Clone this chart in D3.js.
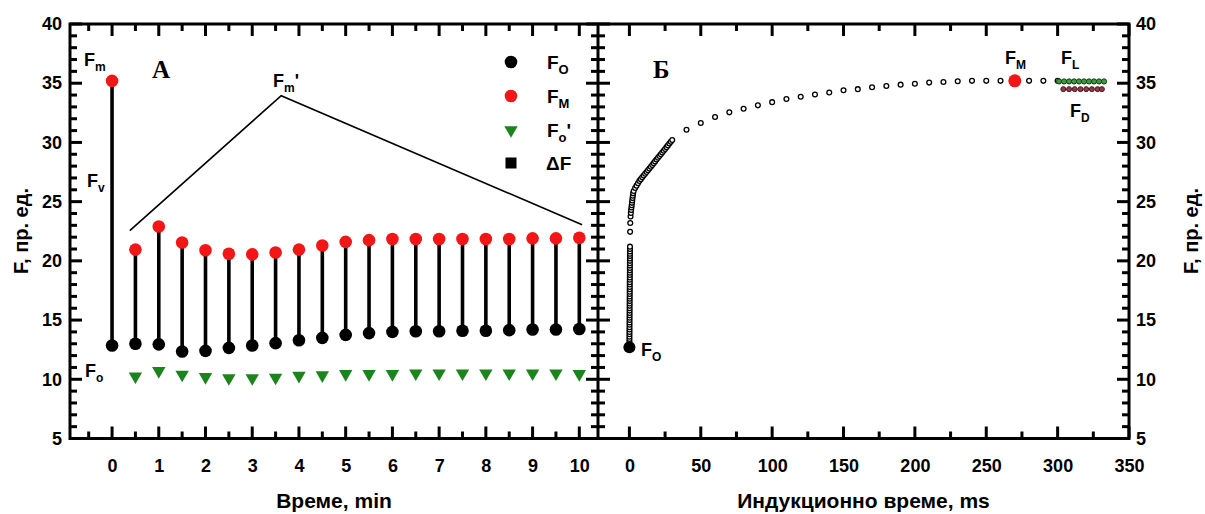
<!DOCTYPE html>
<html>
<head>
<meta charset="utf-8">
<script src="https://cdn.jsdelivr.net/npm/d3@7"></script>
<style>
  body { margin: 0; background: #fff; }
  svg text { font-family: "Liberation Sans", Arial, sans-serif; font-weight: bold; fill: #000; }
</style>
</head>
<body>
<svg id="chart" width="1205" height="514"></svg>
<script>
// ---------- Panel A: fluorescence parameters over time (min) ----------
const timeMin = [0, 0.5, 1, 1.5, 2, 2.5, 3, 3.5, 4, 4.5, 5, 5.5, 6, 6.5, 7, 7.5, 8, 8.5, 9, 9.5, 10];
const fO      = [12.85, 13.0, 12.95, 12.35, 12.4, 12.65, 12.85, 13.05, 13.3, 13.5, 13.75, 13.9, 14.0, 14.05, 14.05, 14.1, 14.1, 14.15, 14.2, 14.2, 14.25];
const fM      = [35.2, 20.95, 22.9, 21.55, 20.9, 20.6, 20.55, 20.7, 20.95, 21.3, 21.6, 21.75, 21.85, 21.85, 21.85, 21.85, 21.85, 21.85, 21.9, 21.9, 21.95];
const fOprime = [null, 10.25, 10.7, 10.4, 10.2, 10.1, 10.1, 10.15, 10.3, 10.35, 10.45, 10.45, 10.45, 10.5, 10.5, 10.5, 10.5, 10.5, 10.5, 10.5, 10.45];
// guide lines pointing at the Fm' points: [time, F]
const fmPrimeGuide = [[0.38, 22.55], [3.62, 33.95], [10.06, 23.05]];

// ---------- Panel Б: induction curve (ms) ----------
const indTime = [
  0.01, 0.02, 0.03, 0.04, 0.05, 0.06, 0.07, 0.08, 0.09, 0.10, 0.11, 0.12, 0.13, 0.14,
  0.15, 0.16, 0.17, 0.18, 0.19, 0.20, 0.21, 0.22, 0.23, 0.24, 0.25, 0.26, 0.27, 0.28,
  0.29, 0.30, 0.31, 0.32, 0.33, 0.34, 0.35, 0.36, 0.37, 0.38, 0.39, 0.40, 0.41,
  0.5, 0.6, 0.8,
  1.0, 1.2, 1.4, 1.6, 1.8, 2.0, 2.2, 2.4, 2.6,
  3, 4, 5, 6, 7, 8, 9, 10, 11, 12, 13, 14, 15, 16, 17, 18, 19, 20, 21, 22, 23, 24, 25, 26, 27, 28, 29, 30,
  40, 50, 60, 70, 80, 90, 100, 110, 120, 130, 140, 150, 160, 170, 180, 190, 200, 210, 220, 230, 240, 250, 260,
  280, 290, 300
];
const indValue = [
  13.2, 13.4, 13.6, 13.8, 14.0, 14.2, 14.4, 14.6, 14.8, 15.0, 15.2, 15.4, 15.6, 15.8,
  16.0, 16.2, 16.4, 16.6, 16.8, 17.0, 17.2, 17.4, 17.6, 17.8, 18.0, 18.2, 18.4, 18.6,
  18.8, 19.0, 19.2, 19.4, 19.6, 19.8, 20.0, 20.2, 20.4, 20.6, 20.8, 21.0, 21.2,
  22.45, 23.2, 23.75,
  24.05, 24.3, 24.5, 24.7, 24.9, 25.1, 25.3, 25.5, 25.7,
  25.9, 26.15, 26.35, 26.55, 26.75, 26.9, 27.05, 27.2, 27.35, 27.5, 27.65, 27.8, 27.95, 28.1, 28.25, 28.4, 28.55, 28.7, 28.85, 29.0, 29.15, 29.3, 29.45, 29.6, 29.75, 29.9, 30.05, 30.2,
  31.07, 31.64, 32.15, 32.54, 32.85, 33.13, 33.4, 33.67, 33.86, 34.05, 34.22, 34.4, 34.5, 34.66, 34.77, 34.88, 34.96, 35.05, 35.1, 35.16, 35.2, 35.2, 35.2,
  35.2, 35.2, 35.2
];
const inductionFO = [0, 12.7];
const inductionFM = [270, 35.2];
const flTime  = [301, 304.5, 308, 311.5, 315, 318.5, 322, 325.5, 329, 332.5];
const flValue = [35.15, 35.15, 35.15, 35.15, 35.15, 35.15, 35.15, 35.15, 35.15, 35.15];
const fdTime  = [304, 308, 312, 316, 320, 324, 328, 331];
const fdValue = [34.5, 34.5, 34.5, 34.5, 34.5, 34.5, 34.5, 34.5];

// ---------- tick labels ----------
const yTicks = [5, 10, 15, 20, 25, 30, 35, 40];
const yMinorTicks = [6, 7, 8, 9, 11, 12, 13, 14, 16, 17, 18, 19, 21, 22, 23, 24, 26, 27, 28, 29, 31, 32, 33, 34, 36, 37, 38, 39];
const xATicks = [0, 1, 2, 3, 4, 5, 6, 7, 8, 9, 10];
const xAMinorTicks = [-0.5, 0.5, 1.5, 2.5, 3.5, 4.5, 5.5, 6.5, 7.5, 8.5, 9.5];
const xBTicks = [0, 50, 100, 150, 200, 250, 300, 350];
const xBMinorTicks = [25, 75, 125, 175, 225, 275, 325];

const RED = "#f21616", GREEN = "#1b841b";
const MAJOR = 12, MINOR = 7, TICK_W = 3;

const svg = d3.select("#chart");
const plotTop = 24, plotBottom = 438.5, plotLeft = 70, plotMid = 598, plotRight = 1129;

const y  = d3.scaleLinear().domain([5, 40]).range([plotBottom, plotTop]);
const xA = d3.scaleLinear().domain([-0.9, 10.4]).range([plotLeft, plotMid]);
const xB = d3.scaleLinear().domain([-22, 350]).range([plotMid, plotRight]);

// frame and divider
svg.append("rect").attr("x", plotLeft).attr("y", plotTop).attr("width", plotRight - plotLeft).attr("height", plotBottom - plotTop)
  .style("fill", "none").style("stroke", "#000").style("stroke-width", "3px");
svg.append("line").attr("x1", plotMid).attr("x2", plotMid).attr("y1", plotTop).attr("y2", plotBottom)
  .style("stroke", "#000").style("stroke-width", "3px");

// tick marks as small filled bars
const gTicks = svg.append("g").attr("fill", "#000");
// vertical edge at x, ticks pointing in direction dir (+1 right, -1 left)
function vTicks(x, dir, values, len) {
  gTicks.append("g").selectAll("rect").data(values).join("rect")
    .attr("x", dir > 0 ? x : x - len).attr("width", len)
    .attr("y", d => y(d) - TICK_W / 2).attr("height", TICK_W);
}
// horizontal edge at yPos, ticks pointing in direction dir (+1 down, -1 up)
function hTicks(scale, yPos, dir, values, len) {
  gTicks.append("g").selectAll("rect").data(values).join("rect")
    .attr("y", dir > 0 ? yPos : yPos - len).attr("height", len)
    .attr("x", d => scale(d) - TICK_W / 2).attr("width", TICK_W);
}

vTicks(plotLeft, 1, yTicks, MAJOR);   vTicks(plotLeft, 1, yMinorTicks, MINOR);
vTicks(plotMid, -1, yTicks, MAJOR);   vTicks(plotMid, -1, yMinorTicks, MINOR);
vTicks(plotMid, 1, yTicks, MAJOR);    vTicks(plotMid, 1, yMinorTicks, MINOR);
vTicks(plotRight, -1, yTicks, MAJOR); vTicks(plotRight, -1, yMinorTicks, MINOR);
hTicks(xA, plotBottom, -1, xATicks, MAJOR); hTicks(xA, plotBottom, -1, xAMinorTicks, MINOR);
hTicks(xA, plotTop, 1, xATicks, MAJOR);     hTicks(xA, plotTop, 1, xAMinorTicks, MINOR);
hTicks(xB, plotBottom, -1, xBTicks, MAJOR); hTicks(xB, plotBottom, -1, xBMinorTicks, MINOR);
hTicks(xB, plotTop, 1, xBTicks, MAJOR);     hTicks(xB, plotTop, 1, xBMinorTicks, MINOR);

// tick labels through d3 axes (zero-length tick lines)
function axisLabels(gen, tx, ty, values, pad) {
  const g = svg.append("g").attr("transform", `translate(${tx},${ty})`)
    .call(gen.tickValues(values).tickSize(0).tickPadding(pad))
    .attr("font-family", null).attr("font-size", null);
  g.select(".domain").remove();
  g.selectAll(".tick line").remove();
  g.selectAll(".tick text").attr("font-size", 18).attr("fill", "#000");
}
axisLabels(d3.axisLeft(y), plotLeft, 0, yTicks, 8);
axisLabels(d3.axisRight(y), plotRight, 0, yTicks, 7);
axisLabels(d3.axisBottom(xA), 0, plotBottom, xATicks, 21);
axisLabels(d3.axisBottom(xB), 0, plotBottom, xBTicks, 21);

// axis titles
svg.append("text").attr("transform", "translate(28,231) rotate(-90)").attr("text-anchor", "middle")
  .attr("font-size", 20).text("F, пр. ед.");
svg.append("text").attr("transform", "translate(1198,231) rotate(-90)").attr("text-anchor", "middle")
  .attr("font-size", 20).text("F, пр. ед.");
svg.append("text").attr("x", (plotLeft + plotMid) / 2).attr("y", 508).attr("text-anchor", "middle")
  .attr("font-size", 21).text("Време, min");
svg.append("text").attr("x", (plotMid + plotRight) / 2).attr("y", 508).attr("text-anchor", "middle")
  .attr("font-size", 21).text("Индукционно време, ms");

// ---------- panel A marks ----------
const gA = svg.append("g");
const rowsA = timeMin.map((t, i) => ({ t, fo: fO[i], fm: fM[i], fop: fOprime[i] }));

gA.selectAll("line.stem").data(rowsA).join("line").attr("class", "stem")
  .attr("x1", d => xA(d.t)).attr("x2", d => xA(d.t))
  .attr("y1", d => y(d.fo)).attr("y2", d => y(d.fm))
  .attr("stroke", "#000").attr("stroke-width", 3.6);

gA.append("path")
  .attr("d", d3.line().x(d => xA(d[0])).y(d => y(d[1]))(fmPrimeGuide))
  .attr("fill", "none").attr("stroke", "#000").attr("stroke-width", 1.6);

gA.selectAll("circle.fo").data(rowsA).join("circle").attr("class", "fo")
  .attr("cx", d => xA(d.t)).attr("cy", d => y(d.fo)).attr("r", 6.3).attr("fill", "#000");
gA.selectAll("circle.fm").data(rowsA).join("circle").attr("class", "fm")
  .attr("cx", d => xA(d.t)).attr("cy", d => y(d.fm)).attr("r", 6.3).attr("fill", RED);

const tri = d3.symbol(d3.symbolTriangle).size(78);
gA.selectAll("path.fop").data(rowsA.filter(d => d.fop != null)).join("path").attr("class", "fop")
  .attr("d", tri)
  .attr("transform", d => `translate(${xA(d.t)},${y(d.fop)}) rotate(180)`)
  .attr("fill", GREEN);

// ---------- panel Б marks ----------
const gB = svg.append("g");
const rowsB = indTime.map((t, i) => ({ t, v: indValue[i] }));
gB.selectAll("circle.ind").data(rowsB).join("circle").attr("class", "ind")
  .attr("cx", d => xB(d.t)).attr("cy", d => y(d.v)).attr("r", 2.4)
  .attr("fill", "#fff").attr("stroke", "#000").attr("stroke-width", 1.3);

gB.selectAll("circle.fd").data(fdTime.map((t, i) => ({ t, v: fdValue[i] }))).join("circle").attr("class", "fd")
  .attr("cx", d => xB(d.t)).attr("cy", d => y(d.v)).attr("r", 2.5)
  .attr("fill", "#8c3a48").attr("stroke", "#4a1a22").attr("stroke-width", 1);
gB.selectAll("circle.fl").data(flTime.map((t, i) => ({ t, v: flValue[i] }))).join("circle").attr("class", "fl")
  .attr("cx", d => xB(d.t)).attr("cy", d => y(d.v)).attr("r", 2.6)
  .attr("fill", "#3f9a3f").attr("stroke", "#173d17").attr("stroke-width", 1);

gB.append("circle").attr("cx", xB(inductionFO[0])).attr("cy", y(inductionFO[1])).attr("r", 6).attr("fill", "#000");
gB.append("circle").attr("cx", xB(inductionFM[0])).attr("cy", y(inductionFM[1])).attr("r", 6.5).attr("fill", RED);

// ---------- labels ----------
function fLabel(x, yb, sub, prime, size, subSize) {
  size = size || 18; subSize = subSize || 12;
  const t = svg.append("text").attr("x", x).attr("y", yb).attr("font-size", size);
  t.append("tspan").text("F");
  t.append("tspan").attr("font-size", subSize).attr("dy", 5).text(sub);
  if (prime) t.append("tspan").attr("dy", -5).text("'");
  return t;
}
fLabel(84, 66, "m");
fLabel(87, 187, "v");
fLabel(85, 377, "o");
fLabel(273, 87, "m", true);
fLabel(1005, 64, "M");
fLabel(1061, 64, "L");
fLabel(1070, 117, "D");
fLabel(641, 356, "O");

svg.append("text").attr("x", 152).attr("y", 78).attr("font-size", 25)
  .style("font-family", '"Liberation Serif", "Times New Roman", serif').text("А");
svg.append("text").attr("x", 653).attr("y", 78).attr("font-size", 25)
  .style("font-family", '"Liberation Serif", "Times New Roman", serif').text("Б");

// legend
const legend = svg.append("g");
const lx = 511, ly = [62, 96, 130, 163];
legend.append("circle").attr("cx", lx).attr("cy", ly[0]).attr("r", 6.3).attr("fill", "#000");
legend.append("circle").attr("cx", lx).attr("cy", ly[1]).attr("r", 6.3).attr("fill", RED);
legend.append("path").attr("d", tri).attr("transform", `translate(${lx},${ly[2]}) rotate(180)`).attr("fill", GREEN);
legend.append("rect").attr("x", lx - 5.5).attr("y", ly[3] - 5.5).attr("width", 11).attr("height", 11).attr("fill", "#000");
fLabel(547, ly[0] + 7, "O", false, 19, 13);
fLabel(547, ly[1] + 7, "M", false, 19, 13);
fLabel(547, ly[2] + 7, "o", true, 19, 13);
svg.append("text").attr("x", 546).attr("y", ly[3] + 7).attr("font-size", 19).text("ΔF");
</script>
</body>
</html>
